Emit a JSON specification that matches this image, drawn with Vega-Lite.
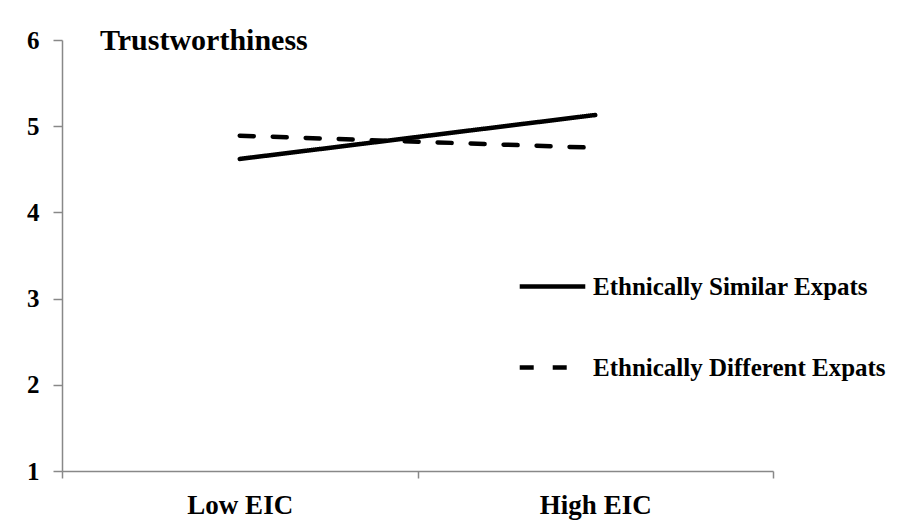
{
  "$schema": "https://vega.github.io/schema/vega-lite/v6.json",
  "width": 711,
  "height": 431,
  "autosize": {"type": "none"},
  "padding": {"left": 62, "top": 40, "right": 134, "bottom": 58},
  "background": "white",
  "title": {
    "text": "Trustworthiness",
    "anchor": "start",
    "frame": "group",
    "orient": "top",
    "font": "Liberation Serif",
    "fontSize": 30,
    "fontWeight": "bold",
    "color": "black",
    "baseline": "middle",
    "offset": 0,
    "dx": 38,
    "dy": 43
  },
  "data": {
    "values": [
      {"eic": "Low EIC", "group": "Ethnically Similar Expats", "value": 4.62},
      {"eic": "High EIC", "group": "Ethnically Similar Expats", "value": 5.13},
      {"eic": "Low EIC", "group": "Ethnically Different Expats", "value": 4.89},
      {"eic": "High EIC", "group": "Ethnically Different Expats", "value": 4.75}
    ]
  },
  "mark": {"type": "line", "color": "black", "strokeWidth": 4.5, "strokeCap": "round"},
  "encoding": {
    "x": {
      "field": "eic",
      "type": "nominal",
      "sort": ["Low EIC", "High EIC"],
      "scale": {"paddingInner": 0, "paddingOuter": 0},
      "axis": {
        "title": null,
        "labelAngle": 0,
        "labelFont": "Liberation Serif",
        "labelFontSize": 27,
        "labelFontWeight": "bold",
        "labelColor": "black",
        "labelPadding": 14,
        "tickBand": "extent",
        "tickSize": 7,
        "tickColor": "#888888",
        "domainColor": "#888888",
        "domainWidth": 1.5,
        "tickWidth": 1.5,
        "grid": false
      }
    },
    "y": {
      "field": "value",
      "type": "quantitative",
      "scale": {"domain": [1, 6], "nice": false, "zero": false},
      "axis": {
        "title": null,
        "values": [1, 2, 3, 4, 5, 6],
        "labelFont": "Liberation Serif",
        "labelFontSize": 25,
        "labelFontWeight": "bold",
        "labelColor": "black",
        "labelPadding": 14,
        "tickSize": 9,
        "tickColor": "#888888",
        "domainColor": "#888888",
        "domainWidth": 1.5,
        "tickWidth": 1.5,
        "grid": false
      }
    },
    "strokeDash": {
      "field": "group",
      "type": "nominal",
      "scale": {
        "domain": ["Ethnically Similar Expats", "Ethnically Different Expats"],
        "range": [[1, 0], [14, 19]]
      },
      "legend": {
        "title": null,
        "orient": "none",
        "legendX": 455,
        "legendY": 211,
        "symbolType": "stroke",
        "symbolSize": 4300,
        "symbolStrokeWidth": 4.5,
        "symbolStrokeColor": "black",
        "labelFont": "Liberation Serif",
        "labelFontSize": 25,
        "labelFontWeight": "bold",
        "labelColor": "black",
        "labelOffset": 5,
        "rowPadding": 32,
        "labelLimit": 400
      }
    }
  },
  "config": {"view": {"stroke": null}}
}
